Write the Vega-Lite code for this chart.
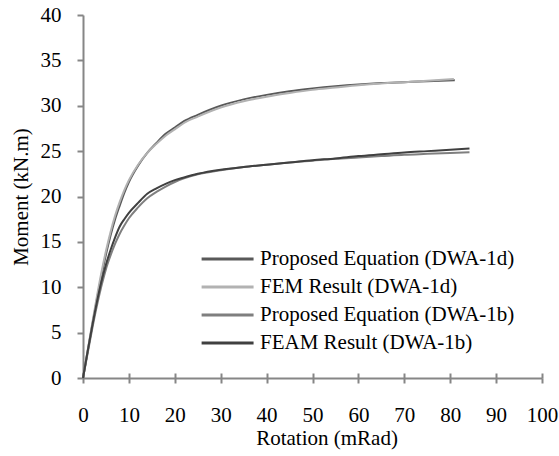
{
  "$schema": "https://vega.github.io/schema/vega-lite/v6.json",
  "width": 459,
  "height": 363,
  "autosize": {"type": "none"},
  "padding": {"left": 83, "top": 15, "right": 17, "bottom": 78},
  "background": "white",
  "config": {
    "view": {"stroke": null},
    "font": "Liberation Serif",
    "axis": {"grid": false, "domainColor": "#868686", "domainWidth": 2, "tickColor": "#868686", "tickWidth": 2, "labelFont": "Liberation Serif", "titleFont": "Liberation Serif", "labelFontSize": 21, "titleFontSize": 21, "labelColor": "#000000", "titleColor": "#000000", "titleFontWeight": "normal", "labelFlush": false, "labelOverlap": false}
  },
  "data": {"values": [
    {"s": "Proposed Equation (DWA-1d)", "x": 0, "y": 0},
    {"s": "Proposed Equation (DWA-1d)", "x": 1, "y": 2.9},
    {"s": "Proposed Equation (DWA-1d)", "x": 2, "y": 5.8},
    {"s": "Proposed Equation (DWA-1d)", "x": 3, "y": 8.6},
    {"s": "Proposed Equation (DWA-1d)", "x": 4, "y": 11.2},
    {"s": "Proposed Equation (DWA-1d)", "x": 5, "y": 13.6},
    {"s": "Proposed Equation (DWA-1d)", "x": 6, "y": 15.7},
    {"s": "Proposed Equation (DWA-1d)", "x": 7, "y": 17.5},
    {"s": "Proposed Equation (DWA-1d)", "x": 8, "y": 19.0},
    {"s": "Proposed Equation (DWA-1d)", "x": 9, "y": 20.4},
    {"s": "Proposed Equation (DWA-1d)", "x": 10, "y": 21.6},
    {"s": "Proposed Equation (DWA-1d)", "x": 12, "y": 23.4},
    {"s": "Proposed Equation (DWA-1d)", "x": 14, "y": 24.8},
    {"s": "Proposed Equation (DWA-1d)", "x": 16, "y": 25.9},
    {"s": "Proposed Equation (DWA-1d)", "x": 18, "y": 26.9},
    {"s": "Proposed Equation (DWA-1d)", "x": 20, "y": 27.6},
    {"s": "Proposed Equation (DWA-1d)", "x": 22, "y": 28.3},
    {"s": "Proposed Equation (DWA-1d)", "x": 25, "y": 29.0},
    {"s": "Proposed Equation (DWA-1d)", "x": 30, "y": 30.0},
    {"s": "Proposed Equation (DWA-1d)", "x": 35, "y": 30.7},
    {"s": "Proposed Equation (DWA-1d)", "x": 40, "y": 31.2},
    {"s": "Proposed Equation (DWA-1d)", "x": 45, "y": 31.6},
    {"s": "Proposed Equation (DWA-1d)", "x": 50, "y": 31.9},
    {"s": "Proposed Equation (DWA-1d)", "x": 55, "y": 32.15},
    {"s": "Proposed Equation (DWA-1d)", "x": 60, "y": 32.35},
    {"s": "Proposed Equation (DWA-1d)", "x": 65, "y": 32.5},
    {"s": "Proposed Equation (DWA-1d)", "x": 70, "y": 32.6},
    {"s": "Proposed Equation (DWA-1d)", "x": 75, "y": 32.7},
    {"s": "Proposed Equation (DWA-1d)", "x": 81, "y": 32.8},
    {"s": "FEM Result (DWA-1d)", "x": 0, "y": 0},
    {"s": "FEM Result (DWA-1d)", "x": 1, "y": 3.0},
    {"s": "FEM Result (DWA-1d)", "x": 2, "y": 6.0},
    {"s": "FEM Result (DWA-1d)", "x": 3, "y": 8.9},
    {"s": "FEM Result (DWA-1d)", "x": 4, "y": 11.6},
    {"s": "FEM Result (DWA-1d)", "x": 5, "y": 14.0},
    {"s": "FEM Result (DWA-1d)", "x": 6, "y": 16.1},
    {"s": "FEM Result (DWA-1d)", "x": 7, "y": 17.9},
    {"s": "FEM Result (DWA-1d)", "x": 8, "y": 19.4},
    {"s": "FEM Result (DWA-1d)", "x": 9, "y": 20.7},
    {"s": "FEM Result (DWA-1d)", "x": 10, "y": 21.8},
    {"s": "FEM Result (DWA-1d)", "x": 12, "y": 23.5},
    {"s": "FEM Result (DWA-1d)", "x": 14, "y": 24.8},
    {"s": "FEM Result (DWA-1d)", "x": 16, "y": 25.8},
    {"s": "FEM Result (DWA-1d)", "x": 18, "y": 26.7},
    {"s": "FEM Result (DWA-1d)", "x": 20, "y": 27.4},
    {"s": "FEM Result (DWA-1d)", "x": 22, "y": 28.1},
    {"s": "FEM Result (DWA-1d)", "x": 25, "y": 28.8},
    {"s": "FEM Result (DWA-1d)", "x": 30, "y": 29.8},
    {"s": "FEM Result (DWA-1d)", "x": 35, "y": 30.5},
    {"s": "FEM Result (DWA-1d)", "x": 40, "y": 31.0},
    {"s": "FEM Result (DWA-1d)", "x": 45, "y": 31.4},
    {"s": "FEM Result (DWA-1d)", "x": 50, "y": 31.75},
    {"s": "FEM Result (DWA-1d)", "x": 55, "y": 32.0},
    {"s": "FEM Result (DWA-1d)", "x": 60, "y": 32.25},
    {"s": "FEM Result (DWA-1d)", "x": 65, "y": 32.45},
    {"s": "FEM Result (DWA-1d)", "x": 70, "y": 32.6},
    {"s": "FEM Result (DWA-1d)", "x": 75, "y": 32.75},
    {"s": "FEM Result (DWA-1d)", "x": 80.8, "y": 32.95},
    {"s": "Proposed Equation (DWA-1b)", "x": 0, "y": 0},
    {"s": "Proposed Equation (DWA-1b)", "x": 1, "y": 2.7},
    {"s": "Proposed Equation (DWA-1b)", "x": 2, "y": 5.4},
    {"s": "Proposed Equation (DWA-1b)", "x": 3, "y": 7.9},
    {"s": "Proposed Equation (DWA-1b)", "x": 4, "y": 10.1},
    {"s": "Proposed Equation (DWA-1b)", "x": 5, "y": 12.0},
    {"s": "Proposed Equation (DWA-1b)", "x": 6, "y": 13.5},
    {"s": "Proposed Equation (DWA-1b)", "x": 7, "y": 14.8},
    {"s": "Proposed Equation (DWA-1b)", "x": 8, "y": 15.9},
    {"s": "Proposed Equation (DWA-1b)", "x": 9, "y": 16.8},
    {"s": "Proposed Equation (DWA-1b)", "x": 10, "y": 17.6},
    {"s": "Proposed Equation (DWA-1b)", "x": 12, "y": 18.8},
    {"s": "Proposed Equation (DWA-1b)", "x": 14, "y": 19.8},
    {"s": "Proposed Equation (DWA-1b)", "x": 16, "y": 20.5},
    {"s": "Proposed Equation (DWA-1b)", "x": 18, "y": 21.1},
    {"s": "Proposed Equation (DWA-1b)", "x": 20, "y": 21.6},
    {"s": "Proposed Equation (DWA-1b)", "x": 22, "y": 22.0},
    {"s": "Proposed Equation (DWA-1b)", "x": 25, "y": 22.45},
    {"s": "Proposed Equation (DWA-1b)", "x": 30, "y": 22.9},
    {"s": "Proposed Equation (DWA-1b)", "x": 35, "y": 23.25},
    {"s": "Proposed Equation (DWA-1b)", "x": 40, "y": 23.5},
    {"s": "Proposed Equation (DWA-1b)", "x": 45, "y": 23.75},
    {"s": "Proposed Equation (DWA-1b)", "x": 50, "y": 23.95},
    {"s": "Proposed Equation (DWA-1b)", "x": 55, "y": 24.15},
    {"s": "Proposed Equation (DWA-1b)", "x": 60, "y": 24.3},
    {"s": "Proposed Equation (DWA-1b)", "x": 65, "y": 24.45},
    {"s": "Proposed Equation (DWA-1b)", "x": 70, "y": 24.6},
    {"s": "Proposed Equation (DWA-1b)", "x": 75, "y": 24.7},
    {"s": "Proposed Equation (DWA-1b)", "x": 80, "y": 24.8},
    {"s": "Proposed Equation (DWA-1b)", "x": 84.2, "y": 24.87},
    {"s": "FEAM Result (DWA-1b)", "x": 0, "y": 0},
    {"s": "FEAM Result (DWA-1b)", "x": 1, "y": 2.9},
    {"s": "FEAM Result (DWA-1b)", "x": 2, "y": 5.7},
    {"s": "FEAM Result (DWA-1b)", "x": 3, "y": 8.3},
    {"s": "FEAM Result (DWA-1b)", "x": 4, "y": 10.6},
    {"s": "FEAM Result (DWA-1b)", "x": 5, "y": 12.5},
    {"s": "FEAM Result (DWA-1b)", "x": 6, "y": 14.1},
    {"s": "FEAM Result (DWA-1b)", "x": 7, "y": 15.5},
    {"s": "FEAM Result (DWA-1b)", "x": 8, "y": 16.7},
    {"s": "FEAM Result (DWA-1b)", "x": 9, "y": 17.5},
    {"s": "FEAM Result (DWA-1b)", "x": 10, "y": 18.2},
    {"s": "FEAM Result (DWA-1b)", "x": 12, "y": 19.3},
    {"s": "FEAM Result (DWA-1b)", "x": 14, "y": 20.3},
    {"s": "FEAM Result (DWA-1b)", "x": 16, "y": 20.9},
    {"s": "FEAM Result (DWA-1b)", "x": 18, "y": 21.4},
    {"s": "FEAM Result (DWA-1b)", "x": 20, "y": 21.8},
    {"s": "FEAM Result (DWA-1b)", "x": 22, "y": 22.1},
    {"s": "FEAM Result (DWA-1b)", "x": 25, "y": 22.5},
    {"s": "FEAM Result (DWA-1b)", "x": 30, "y": 22.95},
    {"s": "FEAM Result (DWA-1b)", "x": 35, "y": 23.25},
    {"s": "FEAM Result (DWA-1b)", "x": 40, "y": 23.5},
    {"s": "FEAM Result (DWA-1b)", "x": 45, "y": 23.75},
    {"s": "FEAM Result (DWA-1b)", "x": 50, "y": 24.0},
    {"s": "FEAM Result (DWA-1b)", "x": 55, "y": 24.2},
    {"s": "FEAM Result (DWA-1b)", "x": 60, "y": 24.45},
    {"s": "FEAM Result (DWA-1b)", "x": 65, "y": 24.65},
    {"s": "FEAM Result (DWA-1b)", "x": 70, "y": 24.85},
    {"s": "FEAM Result (DWA-1b)", "x": 75, "y": 25.0},
    {"s": "FEAM Result (DWA-1b)", "x": 80, "y": 25.15},
    {"s": "FEAM Result (DWA-1b)", "x": 84.2, "y": 25.3}
  ]},
  "resolve": {"axis": {"x": "independent"}},
  "layer": [
    {
      "mark": {"type": "line", "strokeWidth": 2, "interpolate": "monotone"},
      "encoding": {
        "x": {"field": "x", "type": "quantitative", "scale": {"domain": [0, 100], "nice": false},
          "axis": {"values": [0,10,20,30,40,50,60,70,80,90,100], "tickSize": 5, "labelPadding": 21, "title": "Rotation (mRad)", "titleX": 243.5, "titleY": 60, "titleBaseline": "middle", "titleAnchor": null}},
        "y": {"field": "y", "type": "quantitative", "scale": {"domain": [0, 40], "nice": false},
          "axis": {"values": [0,5,10,15,20,25,30,35,40], "tickSize": 6, "labelPadding": 16, "title": "Moment (kN.m)", "titleX": -62, "titleY": 181.5, "titleAngle": -90, "titleBaseline": "middle", "titleAlign": "center"}},
        "color": {"field": "s", "type": "nominal", "sort": null,
          "scale": {"domain": ["Proposed Equation (DWA-1d)", "FEM Result (DWA-1d)", "Proposed Equation (DWA-1b)", "FEAM Result (DWA-1b)"], "range": ["#595959", "#b2b2b2", "#7f7f7f", "#404040"]},
          "legend": {"title": null, "orient": "none", "legendX": 117, "legendY": 232, "padding": 0, "symbolType": "M-1,0H4", "symbolSize": 432, "symbolStrokeWidth": 3, "symbolFillColor": "transparent", "labelFont": "Liberation Serif", "labelFontSize": 21, "labelColor": "#000000", "labelOffset": 36, "rowPadding": 6, "labelLimit": 400}},
        "order": {"value": 0}
      }
    },
    {
      "mark": {"type": "point", "opacity": 0},
      "encoding": {
        "x": {"field": "x", "type": "quantitative", "scale": {"domain": [0, 100], "nice": false},
          "axis": {"orient": "top", "offset": -363, "values": [0,10,20,30,40,50,60,70,80,90,100], "tickSize": 5, "labels": false, "domain": false, "title": null}},
        "y": {"field": "y", "type": "quantitative"}
      }
    }
  ]
}
